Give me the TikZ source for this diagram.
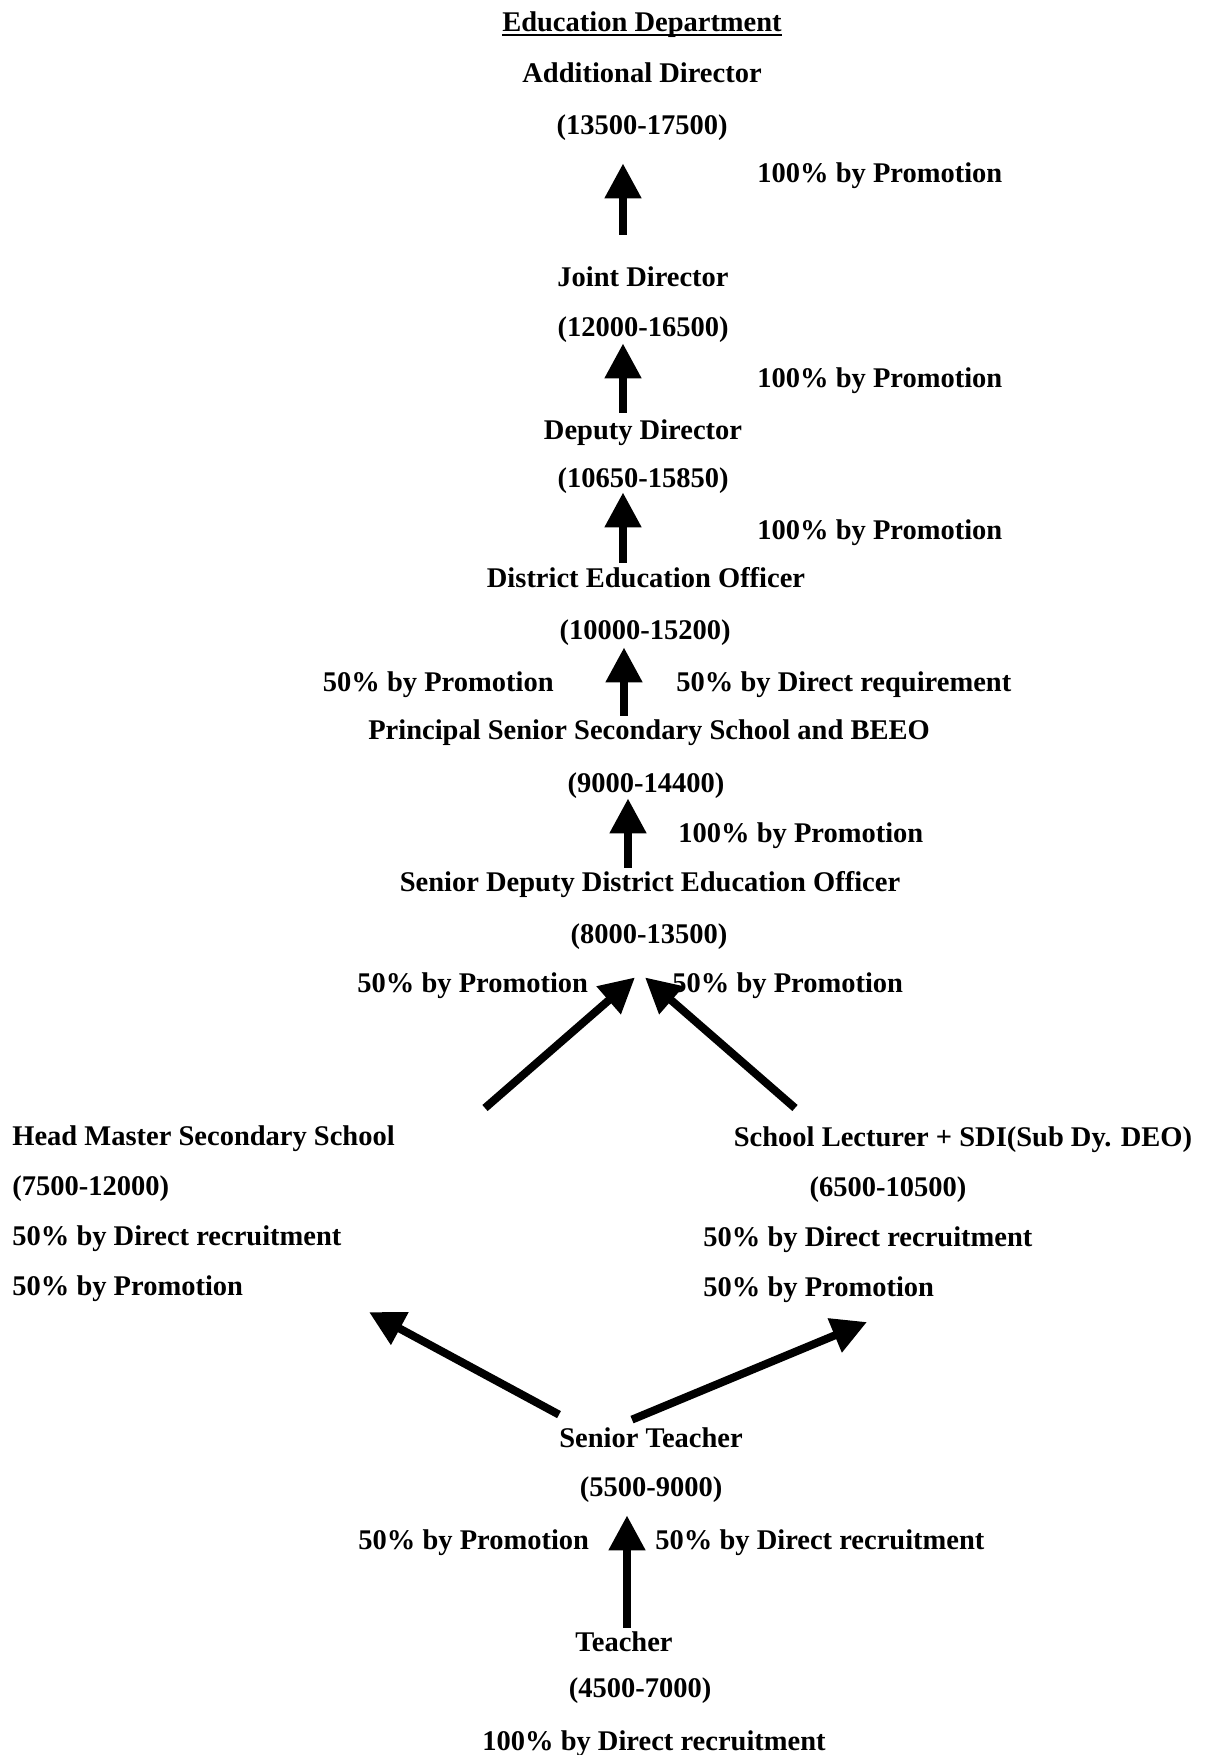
\documentclass[tikz,border=0pt]{standalone}
\usepackage{fontspec}
\setmainfont{Liberation Serif}
\usetikzlibrary{arrows.meta}

\begin{document}
\begin{tikzpicture}[
    x=0.5pt, y=-0.5pt,
    every node/.style={font=\fontsize{14.25pt}{17pt}\selectfont\bfseries, inner sep=0pt, text height=9.6pt, text depth=0pt},
    arrow/.style={-{Triangle[width=17.5pt,length=17.5pt]}, line width=4pt},
]
\useasboundingbox (0,0) rectangle (1204,1755);

% arrow columns
\coordinate (colA) at (623,0);
\coordinate (colB) at (624,0);
\coordinate (colC) at (628,0);
\coordinate (colD) at (627,0);

% Title
\node (title) at (642,22) {Education Department};
\draw[line width=1pt] ([yshift=-1.5pt]title.south west) -- ([yshift=-1.5pt]title.south east);

% Additional Director
\node (ad) at (642,73) {Additional Director};
\node (adpay) at (642,125) {(13500-17500)};
\node[anchor=west] (note1) at (757,173) {100\% by Promotion};

% Joint Director
\node (jd) at (643,277) {Joint Director};
\node (jdpay) at (643,327) {(12000-16500)};
\node[anchor=west] (note2) at (757,378) {100\% by Promotion};

% Deputy Director
\node (dd) at (643,430) {Deputy Director};
\node (ddpay) at (643,478) {(10650-15850)};
\node[anchor=west] (note3) at (757,530) {100\% by Promotion};

% District Education Officer
\node (deo) at (646,578) {District Education Officer};
\node (deopay) at (645,630) {(10000-15200)};
\node[anchor=east] (note4l) at (554,682) {50\% by Promotion};
\node[anchor=west] (note4r) at (676,682) {50\% by Direct requirement};

% Principal
\node (pss) at (649,730) {Principal Senior Secondary School and BEEO};
\node (psspay) at (646,783) {(9000-14400)};
\node[anchor=west] (note5) at (678,833) {100\% by Promotion};

% Senior Deputy DEO
\node (sddeo) at (650,882) {Senior Deputy District Education Officer};
\node (sddeopay) at (649,934) {(8000-13500)};
\node[anchor=west] (note6l) at (357,983) {50\% by Promotion};
\node[anchor=west] (note6r) at (672,983) {50\% by Promotion};

% Head Master
\node[anchor=west] (hm) at (12,1136) {Head Master Secondary School};
\node[anchor=west] (hmpay) at (12,1186) {(7500-12000)};
\node[anchor=west] (hmn1) at (12,1236) {50\% by Direct recruitment};
\node[anchor=west] (hmn2) at (12,1286) {50\% by Promotion};

% School Lecturer
\node (sl) at (963,1137) {School Lecturer + SDI(Sub Dy. DEO)};
\node (slpay) at (888,1187) {(6500-10500)};
\node[anchor=west] (sln1) at (703,1237) {50\% by Direct recruitment};
\node[anchor=west] (sln2) at (703,1287) {50\% by Promotion};

% Senior Teacher
\node (st) at (651,1438) {Senior Teacher};
\node (stpay) at (651,1487) {(5500-9000)};
\node[anchor=west] (note7l) at (358,1540) {50\% by Promotion};
\node[anchor=west] (note7r) at (655,1540) {50\% by Direct recruitment};

% Teacher
\node (teacher) at (624,1642) {Teacher};
\node (tpay) at (640,1688) {(4500-7000)};
\node (note8) at (654,1741) {100\% by Direct recruitment};

% free arrow ends
\coordinate (hmhead) at (485,1108);
\coordinate (slhead) at (795,1108);
\coordinate (hmfoot) at (369,1312);
\coordinate (slfoot) at (867,1322);

% Promotion arrows
\draw[arrow, shorten <=16.2pt, shorten >=14.2pt] (jd.north -| colA) -- (adpay.south -| colA);
\draw[arrow, shorten <=3.7pt, shorten >=3.2pt] (dd.north -| colA) -- (jdpay.south -| colA);
\draw[arrow, shorten <=2.7pt, shorten >=2.2pt] (deo.north -| colA) -- (ddpay.south -| colA);
\draw[arrow, shorten <=2.2pt, shorten >=3.7pt] (pss.north -| colB) -- (deopay.south -| colB);
\draw[arrow, shorten <=2.2pt, shorten >=2.7pt] (sddeo.north -| colC) -- (psspay.south -| colC);
\draw[arrow, shorten <=2.2pt, shorten >=9.2pt] (teacher.north -| colD) -- (stpay.south -| colD);

\draw[arrow] (hmhead) -- ([xshift=-7pt,yshift=-16.7pt]sddeopay.south);
\draw[arrow] (slhead) -- ([xshift=-2pt,yshift=-16.7pt]sddeopay.south);
\draw[arrow] ([xshift=-46pt,yshift=6.7pt]st.north) -- (hmfoot);
\draw[arrow] ([xshift=-9.5pt,yshift=4.2pt]st.north) -- (slfoot);

\end{tikzpicture}
\end{document}
